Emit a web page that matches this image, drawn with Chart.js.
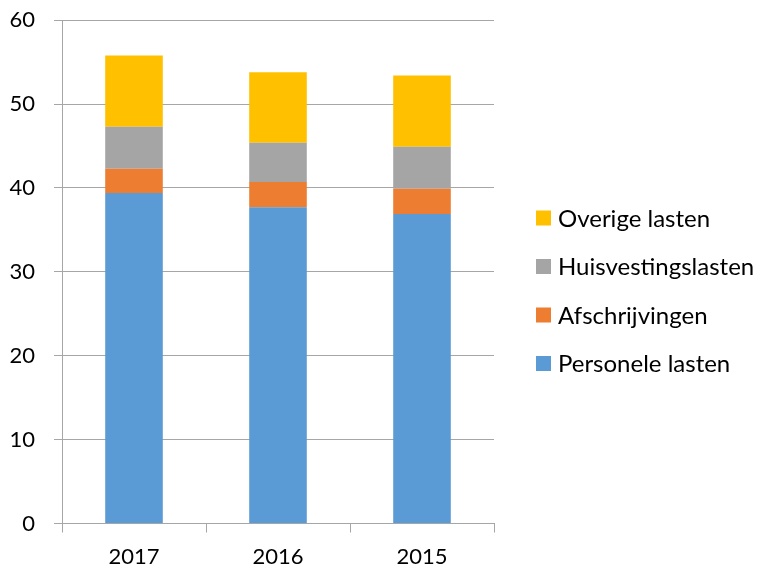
<!DOCTYPE html>
<html>
<head>
<meta charset="utf-8">
<script src="https://cdn.jsdelivr.net/npm/chart.js@4.4.1/dist/chart.umd.min.js"></script>
<style>
  html, body { margin: 0; padding: 0; background: #fff; overflow: hidden; }
  #wrap { width: 760px; height: 580px; position: relative; margin-top: -12px; }
</style>
</head>
<body>
<div id="wrap"><canvas id="chart"></canvas></div>
<script>
const years = ["2017", "2016", "2015"];
const personeleLasten = [39.4, 37.7, 36.9];
const afschrijvingen = [2.9, 3.0, 3.0];
const huisvestingslasten = [5.0, 4.7, 5.0];
const overigeLasten = [8.5, 8.4, 8.5];
const yTicks = [0, 10, 20, 30, 40, 50, 60];

const gridColor = "#a6a6a6";
const font = { family: "Lato, 'Open Sans', sans-serif", size: 22 };
const legendFontSize = 24;
const shift = 12; // canvas sits 12px above the page top

// legend drawn at the right, top item = last dataset (like Excel)
const sideLegend = {
  id: "sideLegend",
  afterDraw(chart) {
    const ctx = chart.ctx;
    const sets = chart.data.datasets.slice().reverse();
    ctx.save();
    ctx.font = legendFontSize + "px " + font.family;
    ctx.textBaseline = "middle";
    ctx.textAlign = "left";
    sets.forEach((ds, i) => {
      const y = 218 + shift + i * 48.5;
      ctx.fillStyle = ds.backgroundColor;
      ctx.fillRect(536, y - 7.5, 15, 15);
      ctx.fillStyle = "#000";
      ctx.fillText(ds.label, 558, y + 1);
    });
    ctx.restore();
  }
};

new Chart(document.getElementById("chart"), {
  type: "bar",
  data: {
    labels: years,
    datasets: [
      { label: "Personele lasten", data: personeleLasten, backgroundColor: "#5b9bd5" },
      { label: "Afschrijvingen", data: afschrijvingen, backgroundColor: "#ed7d31" },
      { label: "Huisvestingslasten", data: huisvestingslasten, backgroundColor: "#a5a5a5" },
      { label: "Overige lasten", data: overigeLasten, backgroundColor: "#ffc000" }
    ]
  },
  options: {
    responsive: true,
    maintainAspectRatio: false,
    animation: false,
    layout: { padding: { top: 0, left: 0, right: 266, bottom: 0 } },
    datasets: { bar: { categoryPercentage: 1, barPercentage: 0.4 } },
    scales: {
      x: {
        stacked: true,
        offset: true,
        afterFit: scale => { scale.height = 44.5; },
        ticks: { color: "#000", font, padding: 11 },
        grid: { offset: true, drawOnChartArea: false, color: gridColor, tickLength: 9 },
        border: { color: gridColor }
      },
      y: {
        stacked: true,
        min: 0,
        max: 60,
        afterFit: scale => { scale.width = 62; },
        afterBuildTicks: axis => { axis.ticks = yTicks.map(v => ({ value: v })); },
        ticks: { color: "#000", font, padding: 19 },
        grid: { color: gridColor, tickLength: 8 },
        border: { color: gridColor }
      }
    },
    plugins: {
      tooltip: { enabled: false },
      legend: { display: false }
    }
  },
  plugins: [sideLegend]
});
</script>
</body>
</html>
